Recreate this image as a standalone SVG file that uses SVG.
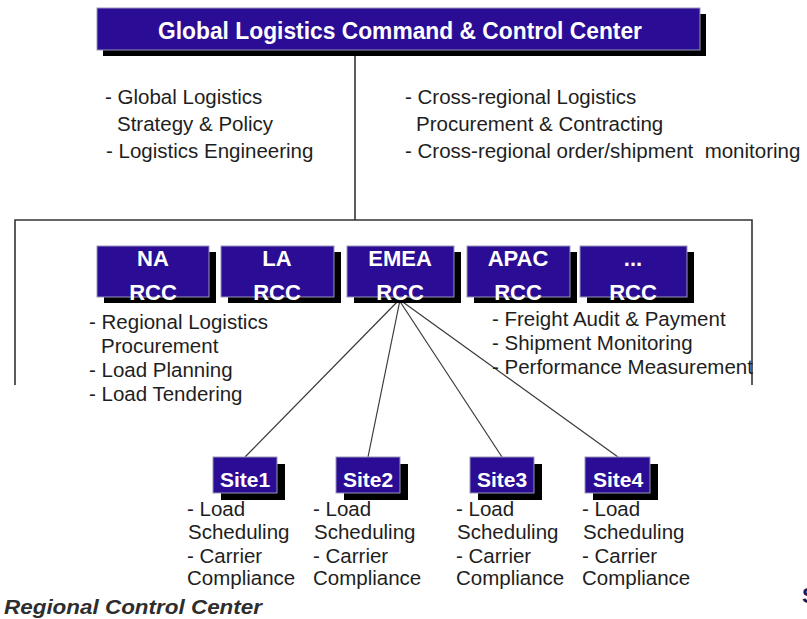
<svg xmlns="http://www.w3.org/2000/svg" width="807" height="619" viewBox="0 0 807 619">
<style>
.bg{fill:#ffffff}
.box{fill:#2b0d95;stroke:#9a98b8;stroke-width:1}
.shadow{fill:#000000}
.btxt{font-family:"Liberation Sans",Arial,sans-serif;font-weight:bold;fill:#ffffff;text-anchor:middle}
.t{font-family:"Liberation Sans",Arial,sans-serif;font-size:20.5px;fill:#1e1e1e;white-space:pre}
.line{stroke:#333333;stroke-width:1.6;fill:none}
.conn{stroke:#3a3a3a;stroke-width:1.2;fill:none}
</style>
<rect class="bg" x="0" y="0" width="807" height="619"/>

<g id="connectors">
  <path class="line" d="M355,50 V220"/>
  <path class="line" d="M15,385 V220 H752 V385"/>
  <line class="conn" x1="399" y1="300" x2="245" y2="457"/>
  <line class="conn" x1="400" y1="300" x2="368" y2="457"/>
  <line class="conn" x1="399" y1="300" x2="502" y2="457"/>
  <line class="conn" x1="400" y1="300" x2="618" y2="457"/>
</g>

<g id="gl-cc">
  <rect class="shadow" x="103" y="14" width="603" height="42"/>
  <rect class="box" x="97" y="8" width="603" height="42"/>
  <text class="btxt" x="400" y="39" font-size="23" textLength="484" lengthAdjust="spacingAndGlyphs">Global Logistics Command &amp; Control Center</text>
</g>

<g id="gl-notes-left">
  <text class="t" x="105" y="104">- Global Logistics</text>
  <text class="t" x="117" y="131">Strategy &amp; Policy</text>
  <text class="t" x="106" y="158">- Logistics Engineering</text>
</g>
<g id="gl-notes-right">
  <text class="t" x="405" y="104">- Cross-regional Logistics</text>
  <text class="t" x="416" y="131">Procurement &amp; Contracting</text>
  <text class="t" x="405" y="158">- Cross-regional order/shipment  monitoring</text>
</g>

<g id="na-rcc">
  <rect class="shadow" x="104" y="252" width="112" height="51"/>
  <rect class="box" x="97" y="246" width="112" height="51"/>
  <text class="btxt" x="153" y="266" font-size="22">NA</text>
  <text class="btxt" x="153" y="300" font-size="22">RCC</text>
</g>
<g id="la-rcc">
  <rect class="shadow" x="228" y="252" width="113" height="51"/>
  <rect class="box" x="221" y="246" width="113" height="51"/>
  <text class="btxt" x="277" y="266" font-size="22">LA</text>
  <text class="btxt" x="277" y="300" font-size="22">RCC</text>
</g>
<g id="emea-rcc">
  <rect class="shadow" x="354" y="252" width="107" height="51"/>
  <rect class="box" x="347" y="246" width="107" height="51"/>
  <text class="btxt" x="400" y="266" font-size="22">EMEA</text>
  <text class="btxt" x="400" y="300" font-size="22">RCC</text>
</g>
<g id="apac-rcc">
  <rect class="shadow" x="474" y="252" width="103" height="51"/>
  <rect class="box" x="467" y="246" width="103" height="51"/>
  <text class="btxt" x="518" y="266" font-size="22">APAC</text>
  <text class="btxt" x="518" y="300" font-size="22">RCC</text>
</g>
<g id="other-rcc">
  <rect class="shadow" x="587" y="252" width="107" height="51"/>
  <rect class="box" x="580" y="246" width="107" height="51"/>
  <text class="btxt" x="633" y="266" font-size="22">...</text>
  <text class="btxt" x="633" y="300" font-size="22">RCC</text>
</g>

<g id="rcc-notes-left">
  <text class="t" x="89" y="329">- Regional Logistics</text>
  <text class="t" x="101" y="353">Procurement</text>
  <text class="t" x="89" y="377">- Load Planning</text>
  <text class="t" x="89" y="401">- Load Tendering</text>
</g>
<g id="rcc-notes-right">
  <text class="t" x="492" y="326">- Freight Audit &amp; Payment</text>
  <text class="t" x="492" y="350">- Shipment Monitoring</text>
  <text class="t" x="492" y="374">- Performance Measurement</text>
</g>

<g id="site1">
  <rect class="shadow" x="221" y="464" width="64" height="36"/>
  <rect class="box" x="213" y="457" width="64" height="36"/>
  <text class="btxt" x="245" y="487" font-size="21">Site1</text>
  <text class="t" x="187" y="516">- Load</text>
  <text class="t" x="188" y="539">Scheduling</text>
  <text class="t" x="187" y="563">- Carrier</text>
  <text class="t" x="187" y="585">Compliance</text>
</g>
<g id="site2">
  <rect class="shadow" x="344" y="464" width="64" height="36"/>
  <rect class="box" x="336" y="457" width="64" height="36"/>
  <text class="btxt" x="368" y="487" font-size="21">Site2</text>
  <text class="t" x="313" y="516">- Load</text>
  <text class="t" x="314" y="539">Scheduling</text>
  <text class="t" x="313" y="563">- Carrier</text>
  <text class="t" x="313" y="585">Compliance</text>
</g>
<g id="site3">
  <rect class="shadow" x="478" y="464" width="64" height="36"/>
  <rect class="box" x="470" y="457" width="64" height="36"/>
  <text class="btxt" x="502" y="487" font-size="21">Site3</text>
  <text class="t" x="456" y="516">- Load</text>
  <text class="t" x="457" y="539">Scheduling</text>
  <text class="t" x="456" y="563">- Carrier</text>
  <text class="t" x="456" y="585">Compliance</text>
</g>
<g id="site4">
  <rect class="shadow" x="593" y="464" width="65" height="36"/>
  <rect class="box" x="585" y="457" width="65" height="36"/>
  <text class="btxt" x="618" y="487" font-size="21">Site4</text>
  <text class="t" x="582" y="516">- Load</text>
  <text class="t" x="583" y="539">Scheduling</text>
  <text class="t" x="582" y="563">- Carrier</text>
  <text class="t" x="582" y="585">Compliance</text>
</g>

<g id="footer">
  <text x="4" y="614" font-family="'Liberation Sans',Arial,sans-serif" font-size="21" font-weight="bold" font-style="italic" fill="#2e2e2e" textLength="258" lengthAdjust="spacingAndGlyphs">Regional Control Center</text>
  <text x="802" y="603" font-family="'Liberation Sans',Arial,sans-serif" font-size="22" font-weight="bold" fill="#1c1660">S</text>
</g>
</svg>
